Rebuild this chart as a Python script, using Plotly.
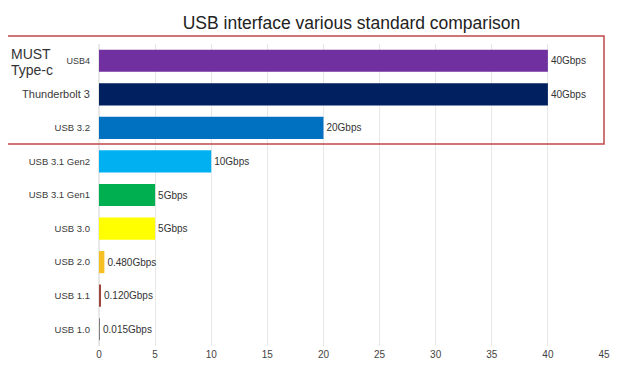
import plotly.graph_objects as go

categories = ["USB4", "Thunderbolt 3", "USB 3.2", "USB 3.1 Gen2", "USB 3.1 Gen1",
              "USB 3.0", "USB 2.0", "USB 1.1", "USB 1.0"]
speeds = [40, 40, 20, 10, 5, 5, 0.48, 0.12, 0.015]
labels = ["40Gbps", "40Gbps", "20Gbps", "10Gbps", "5Gbps", "5Gbps",
          "0.480Gbps", "0.120Gbps", "0.015Gbps"]
colors = ["#7030A0", "#002060", "#0070C0", "#00B0F0", "#00B050",
          "#FFFF00", "#F5C023", "#A0463C", "#7F7F7F"]
label_sizes = [9, 11, 9.5, 9.5, 9.5, 9.5, 9.5, 9.5, 9.5]
x_ticks = [0, 5, 10, 15, 20, 25, 30, 35, 40, 45]

# page has an 8px body margin; figure is sized/offset to compensate
W, H = 632, 367
OFF = 8
L, T, R, B = 99 - OFF, 44 - OFF, 36, 29

fig = go.Figure(go.Bar(
    y=categories, x=speeds, orientation="h",
    marker=dict(color=colors, line=dict(width=0)),
    width=0.66,
    text=labels, textposition="outside", cliponaxis=False,
    textfont=dict(size=10, color="#333333", family="Liberation Sans, Arial"),
))

pw = W - L - R
ph = H - T - B

tick_text = [f'<span style="font-size:{s}px">{c}</span>' for c, s in zip(categories, label_sizes)]

fig.update_layout(
    width=W, height=H,
    margin=dict(l=L, r=R, t=T, b=B, autoexpand=False),
    paper_bgcolor="white", plot_bgcolor="white",
    font=dict(family="Liberation Sans, Arial", size=10, color="#444444"),
    title=dict(text="USB interface various standard comparison",
               x=(L + pw / 2) / W, xanchor="center", y=1 - (23 - OFF) / H, yanchor="middle",
               font=dict(size=17.5, color="#222222")),
    showlegend=False,
    xaxis=dict(range=[0, 45], tickvals=x_ticks, showgrid=True, gridcolor="#E8E8E8",
               gridwidth=1, zeroline=True, zerolinecolor="#E8E8E8", showline=False,
               ticks="", tickfont=dict(size=10, color="#444444")),
    yaxis=dict(categoryorder="array", categoryarray=categories[::-1],
               tickmode="array", tickvals=categories, ticktext=tick_text,
               autorange=False, range=[-0.5, 8.5],
               showgrid=False, ticks="", ticklen=0, showline=False,
               tickfont=dict(size=9.5, color="#3A3A3A")),
)
fig.update_xaxes(ticklabelstandoff=1)
fig.update_yaxes(ticklabelstandoff=8)

def px(x): return (x - OFF - L) / pw
def py(y): return (H - B - (y - OFF)) / ph

fig.add_shape(type="rect", xref="paper", yref="paper",
              x0=px(3), x1=px(604), y0=py(144), y1=py(36),
              line=dict(color="#C04848", width=1.5), fillcolor="rgba(0,0,0,0)")
fig.add_annotation(text="MUST", xref="paper", yref="paper",
                   x=px(10), y=py(54), xanchor="left", yanchor="middle",
                   showarrow=False, borderpad=0, font=dict(size=14, color="#333333"))
fig.add_annotation(text="Type-c", xref="paper", yref="paper",
                   x=px(10), y=py(70), xanchor="left", yanchor="middle",
                   showarrow=False, borderpad=0, font=dict(size=14, color="#333333"))

fig.write_html("out.html")
